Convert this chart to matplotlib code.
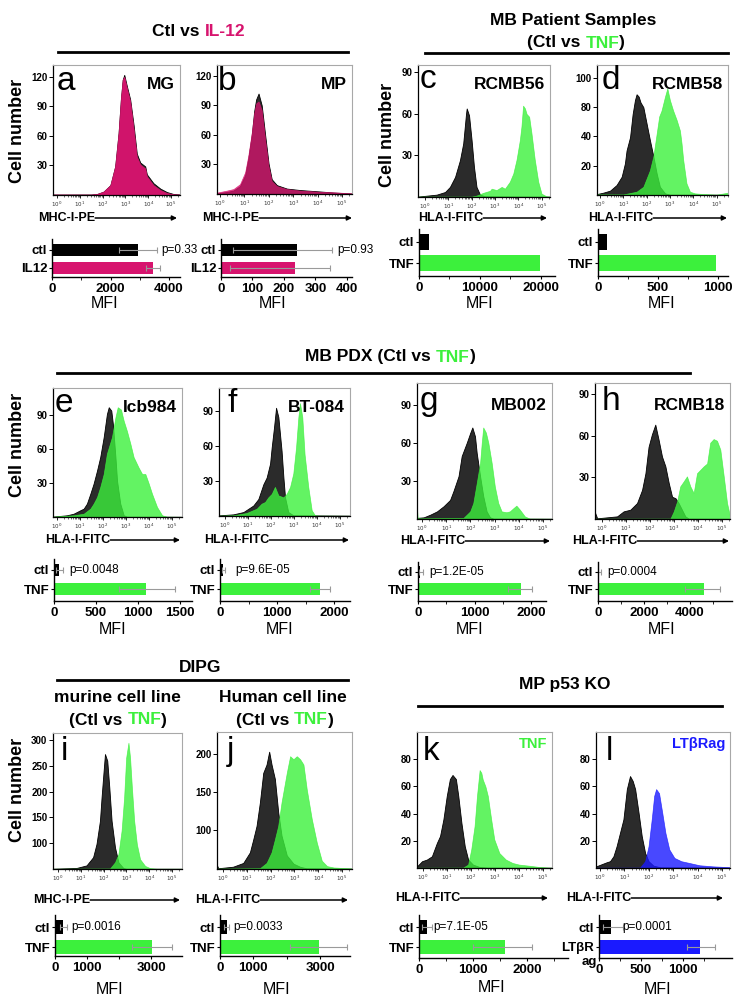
import numpy as np
import matplotlib
matplotlib.use("Agg")
import matplotlib.pyplot as plt

plt.rcParams['font.family'] = ['Liberation Sans', 'DejaVu Sans']

W, H = 745, 1000
MAG = '#d7146e'
GRN = '#3cf03c'
BLU = '#1a1aff'
DARK = '#2b2b2b'

# ---- histogram curves: (log10 intensity, cell count) ----
a_ctl = [(-0.2, 0.5), (1.5, 0.5), (1.75, 1), (2.04, 3.4), (2.34, 10), (2.55, 29), (2.70, 63), (2.80, 97),
         (2.88, 117), (2.95, 122), (3.07, 110), (3.21, 97), (3.36, 71), (3.50, 42), (3.65, 33), (3.87, 29),
         (3.94, 21), (4.23, 12), (4.53, 6.5), (4.82, 3), (5.11, 1), (5.4, 0.5)]
a_trt = [(-0.2, 0.5), (1.5, 0.5), (1.75, 1), (2.04, 3.4), (2.34, 10), (2.55, 29), (2.70, 63), (2.80, 97),
         (2.88, 117), (2.95, 120), (3.07, 108), (3.21, 95), (3.36, 67), (3.50, 39), (3.65, 31), (3.87, 27),
         (3.94, 19), (4.23, 10), (4.53, 5), (4.82, 2), (5.11, 0.7), (5.4, 0.5)]
b_ctl = [(-0.2, 0.5), (0.27, 2), (0.55, 3.5), (0.82, 8), (1.03, 19), (1.16, 36), (1.30, 60), (1.40, 84),
         (1.48, 96), (1.58, 102), (1.71, 90), (1.85, 60), (1.99, 31), (2.12, 15), (2.33, 9), (2.74, 5.5),
         (3.29, 4), (3.97, 2.8), (4.66, 1.5), (5.4, 0.5)]
b_trt = [(-0.2, 1), (-0.07, 1.7), (0.27, 3.4), (0.55, 5), (0.82, 10), (1.03, 22), (1.16, 39), (1.30, 62),
         (1.40, 82), (1.48, 92), (1.58, 94), (1.71, 85), (1.85, 55), (1.99, 28), (2.12, 13), (2.33, 8),
         (2.74, 5), (3.29, 3.4), (3.97, 2.4), (4.66, 1.7), (5.4, 0.7)]
c_ctl = [(-0.3, 0.3), (0.5, 1.7), (0.86, 3.6), (1.07, 7.3), (1.29, 14.5), (1.5, 26.6), (1.64, 38.7),
         (1.76, 60), (1.79, 64), (1.89, 59), (2.0, 41), (2.1, 22), (2.21, 7.3), (2.36, 1.7), (2.57, 0.5),
         (5.4, 0.2)]
c_trt = [(-0.3, 0.3), (2.0, 0.3), (2.21, 1), (2.5, 3), (2.79, 4.5), (2.86, 6), (3.07, 5), (3.29, 7.3),
         (3.43, 6), (3.64, 11), (3.79, 17), (3.93, 27), (4.07, 41), (4.14, 51), (4.21, 66), (4.29, 64),
         (4.36, 60), (4.47, 58), (4.57, 46), (4.71, 27), (4.86, 11), (5.0, 2.4), (5.21, 0.5), (5.4, 0.3)]
d_ctl = [(-0.2, 0.5), (0.14, 2), (0.43, 3.7), (0.71, 8.5), (0.93, 15.6), (1.07, 27), (1.14, 38),
         (1.29, 49.4), (1.4, 69), (1.5, 81), (1.57, 86), (1.66, 84), (1.74, 79), (1.86, 75), (2.0, 61),
         (2.14, 47), (2.29, 33), (2.43, 18.5), (2.57, 7), (2.79, 1.4), (3.0, 0.3), (5.5, 0.2)]
d_trt = [(-0.2, 0.5), (1.0, 0.5), (1.57, 2.8), (1.86, 7), (2.14, 21), (2.29, 33), (2.43, 52), (2.54, 67),
         (2.64, 72), (2.79, 84), (2.89, 91), (3.0, 81), (3.14, 72), (3.29, 64), (3.43, 55), (3.5, 44),
         (3.57, 30), (3.71, 10), (3.86, 2.8), (4.07, 1.4), (4.43, 0.8), (5.0, 0.3), (5.5, 2)]
e_ctl = [(-0.2, 0.3), (0.43, 1.5), (0.72, 2.9), (1.01, 5.9), (1.16, 7.4), (1.30, 11.8), (1.45, 20.6),
         (1.59, 29.4), (1.74, 41), (1.88, 53), (2.03, 70.6), (2.17, 91), (2.25, 97), (2.36, 94),
         (2.43, 82), (2.54, 53), (2.61, 32), (2.75, 11.8), (2.90, 1.5), (3.04, 0.3), (5.4, 0.2)]
e_trt = [(-0.2, 0.3), (0.72, 1.5), (1.16, 2.9), (1.45, 7.4), (1.59, 11.8), (1.74, 17.6), (1.88, 26.5),
         (2.03, 38), (2.17, 56), (2.39, 70.6), (2.54, 88), (2.64, 97), (2.78, 95), (2.90, 85), (3.04, 76),
         (3.19, 64.7), (3.33, 53), (3.54, 44), (3.70, 38), (3.84, 38), (3.99, 29.4), (4.13, 20.6),
         (4.35, 8.8), (4.57, 1.5), (4.78, 0.3), (5.4, 0.2)]
f_ctl = [(-0.3, 0.5), (0.36, 1.4), (0.80, 3.4), (1.23, 9), (1.45, 14.6), (1.67, 27.4), (1.81, 33),
         (1.96, 45), (2.03, 59), (2.13, 76), (2.22, 93), (2.32, 85), (2.46, 56), (2.54, 33), (2.61, 16),
         (2.75, 3.4), (2.97, 0.6), (5.4, 0.3)]
f_trt = [(-0.3, 0.3), (0.36, 0.6), (0.94, 2.6), (1.38, 6.3), (1.59, 10.6), (1.74, 12), (1.88, 16),
         (2.03, 19), (2.17, 25), (2.32, 17.7), (2.54, 16), (2.68, 19), (2.83, 25), (2.97, 36.6),
         (3.09, 59), (3.19, 85), (3.26, 97), (3.36, 85), (3.46, 53), (3.62, 25), (3.77, 4.9), (3.91, 0.6),
         (4.13, 0.3), (5.4, 0.2)]
g_ctl = [(-0.25, 0.8), (0.07, 1.3), (0.34, 3.4), (0.62, 6), (0.89, 10), (1.16, 15), (1.30, 22),
         (1.51, 33.7), (1.64, 49.5), (1.85, 60), (1.99, 67.6), (2.08, 72), (2.19, 65), (2.26, 52),
         (2.40, 33.7), (2.53, 18), (2.67, 6), (2.81, 1.3), (2.95, 0.3), (5.4, 0.2)]
g_trt = [(-0.25, 20), (-0.18, 0.5), (1.71, 0.8), (1.99, 6), (2.12, 12.6), (2.26, 28), (2.40, 44),
         (2.47, 60), (2.53, 72), (2.64, 68), (2.74, 60), (2.88, 44), (3.01, 25.5), (3.15, 12.6),
         (3.29, 6), (3.49, 5.3), (3.63, 6), (3.77, 8.4), (3.90, 10.5), (4.04, 7.4), (4.25, 2), (4.45, 0.3),
         (5.4, 0.2)]
h_ctl = [(-0.3, 5), (-0.2, 0.5), (0.63, 1.9), (0.90, 5.5), (1.18, 6.7), (1.46, 11.5), (1.67, 21),
         (1.81, 33), (1.94, 52), (2.08, 61), (2.22, 68), (2.36, 57), (2.50, 45), (2.64, 38), (2.78, 26),
         (2.92, 16), (3.06, 15), (3.19, 11.5), (3.33, 6.7), (3.47, 1.9), (3.61, 0.3), (5.4, 0.2)]
h_trt = [(-0.3, 0.2), (2.85, 0.3), (2.99, 5.5), (3.13, 12.7), (3.26, 23.5), (3.40, 27), (3.54, 30.7),
         (3.68, 23.5), (3.82, 18.7), (3.96, 33), (4.10, 35.5), (4.24, 38), (4.38, 40), (4.51, 55),
         (4.65, 57.6), (4.79, 56.4), (4.93, 50), (5.07, 31), (5.21, 11.5), (5.35, 0.7), (5.4, 0.3)]
i_ctl = [(-0.25, 49.5), (0.81, 51), (1.25, 56), (1.54, 72), (1.69, 98), (1.84, 143), (1.91, 188),
         (1.99, 234), (2.06, 273), (2.16, 260), (2.25, 208), (2.35, 143), (2.50, 91), (2.65, 62),
         (2.87, 50.6), (3.0, 49.5), (5.5, 49.5)]
i_trt = [(-0.25, 49.5), (2.28, 50), (2.50, 62), (2.65, 78), (2.79, 124), (2.90, 188), (2.99, 266),
         (3.09, 295), (3.16, 266), (3.24, 208), (3.34, 143), (3.46, 97), (3.60, 68), (3.82, 55),
         (4.04, 50.6), (4.34, 49.5), (5.5, 49.5)]
j_ctl = [(-0.28, 55), (-0.2, 49), (0.42, 51), (0.85, 56), (1.13, 70), (1.27, 87), (1.41, 105),
         (1.55, 136), (1.69, 175), (1.83, 186), (1.94, 203), (2.04, 186), (2.18, 167), (2.32, 123),
         (2.46, 92), (2.68, 66), (2.96, 55), (3.24, 50.9), (3.5, 49), (5.5, 48.5)]
j_trt = [(-0.28, 48.5), (1.55, 49), (1.83, 56), (2.04, 70), (2.18, 87), (2.32, 105), (2.46, 136),
         (2.68, 175), (2.82, 197), (2.96, 193), (3.1, 197), (3.24, 193), (3.38, 186), (3.52, 153),
         (3.73, 114), (3.94, 83), (4.15, 59), (4.37, 51.8), (4.65, 50), (5.5, 48.5)]
k_ctl = [(-0.25, 1.2), (-0.04, 5), (0.16, 6.2), (0.37, 8.6), (0.58, 18.5), (0.71, 23.5), (0.85, 35.8),
         (0.99, 53), (1.12, 65.4), (1.23, 68.4), (1.37, 65.4), (1.47, 53), (1.60, 33.3), (1.74, 16),
         (1.88, 6.2), (2.08, 2.5), (2.36, 0.7), (2.7, 0.3), (5.4, 0.2)]
k_trt = [(-0.25, 0.2), (1.67, 0.3), (1.88, 2.5), (2.01, 13.6), (2.15, 30.9), (2.25, 53), (2.36, 72),
         (2.43, 70), (2.49, 65), (2.60, 60), (2.70, 53), (2.84, 35.8), (2.97, 21), (3.18, 11), (3.45, 6.2),
         (3.73, 3.7), (4.0, 2.5), (4.41, 1.7), (4.82, 0.8), (5.23, 0.3), (5.4, 0.2)]
l_ctl = [(-0.16, 1.2), (0.27, 4.2), (0.41, 5), (0.55, 8.6), (0.68, 16), (0.82, 25.9), (0.96, 35.8),
         (1.10, 58), (1.23, 67.6), (1.34, 64), (1.44, 58), (1.58, 40.7), (1.71, 23.5), (1.85, 11),
         (1.99, 5), (2.19, 1.7), (2.47, 0.5), (5.4, 0.2)]
l_trt = [(-0.16, 0.2), (1.64, 0.3), (1.85, 5), (1.99, 16), (2.12, 35.8), (2.22, 53), (2.30, 58),
         (2.42, 55), (2.55, 40.7), (2.68, 25.9), (2.84, 13.6), (3.05, 7.4), (3.33, 5), (3.66, 3.7),
         (4.08, 2), (4.63, 1.2), (5.18, 0.7), (5.4, 0.5)]

panels = ['a', 'b', 'c', 'd', 'e', 'f', 'g', 'h', 'i', 'j', 'k', 'l']
sample_names = ['MG', 'MP', 'RCMB56', 'RCMB58', 'Icb984', 'BT-084', 'MB002', 'RCMB18', '', '', 'TNF', 'LTβRag']
x_labels = ['MHC-I-PE', 'MHC-I-PE', 'HLA-I-FITC', 'HLA-I-FITC', 'HLA-I-FITC', 'HLA-I-FITC',
            'HLA-I-FITC', 'HLA-I-FITC', 'MHC-I-PE', 'HLA-I-FITC', 'HLA-I-FITC', 'HLA-I-FITC']
y_ticks = [[30, 60, 90, 120], [30, 60, 90, 120], [30, 60, 90], [25, 50, 75, 100], [30, 60, 90],
           [30, 60, 90], [30, 60, 90], [30, 60, 90], [100, 150, 200, 250, 300], [100, 150, 200],
           [20, 40, 60, 80], [20, 40, 60, 80]]
y_tick_labels = [None, None, None, ['20', '40', '80', '100'], None, None, None, None, None, None, None, None]
y_tops = [132, 131, 95.4, 111, 114, 110, 107, 98, 314, 229, 100, 100]
y_bottoms = [0, 0, 0, 0, 0, 0, 0, 0, 49, 48, 0, 0]

# ---- MFI bar charts ----
trt_names = ['IL12', 'IL12', 'TNF', 'TNF', 'TNF', 'TNF', 'TNF', 'TNF', 'TNF', 'TNF', 'TNF', 'LTβR']
ctl_mfi = [2950, 240, 1640, 75, 60, 60, 40, 60, 250, 200, 150, 140]
trt_mfi = [3450, 235, 19900, 985, 1100, 1760, 1830, 4600, 3030, 2980, 1600, 1200]
ctl_lo = [2300, 39, None, None, 20, 30, 10, 20, 150, 120, 60, 50]
ctl_hi = [3600, 351, None, None, 110, 90, 80, 110, 370, 280, 250, 280]
trt_lo = [3200, 29, None, None, 770, 1580, 1600, 3800, 2400, 2100, 1000, 1050]
trt_hi = [3700, 346, None, None, 1440, 1930, 2010, 5300, 3650, 3800, 2100, 1380]
p_values = ['p=0.33', 'p=0.93', '', '', 'p=0.0048', 'p=9.6E-05', 'p=1.2E-05', 'p=0.0004',
            'p=0.0016', 'p=0.0033', 'p=7.1E-05', 'p=0.0001']
mfi_ticks = [[0, 2000, 4000], [0, 100, 200, 300, 400], [0, 10000, 20000], [0, 500, 1000],
             [0, 500, 1000, 1500], [0, 1000, 2000], [0, 1000, 2000], [0, 2000, 4000],
             [0, 1000, 2000, 3000], [0, 1000, 2000, 3000], [0, 1000, 2000], [0, 500, 1000]]
mfi_tick_labels = [None, None, None, None, None, None, None, None,
                   ['0', '1000', '', '3000'], ['0', '1000', '', '3000'], None, None]
mfi_minor = [[1000, 3000], [], [5000, 15000], [250, 750], [], [500, 1500], [500, 1500],
             [1000, 3000, 5000], [], [], [500, 1500, 2500], [250, 750, 1250]]
mfi_max = [4376, 416, 22300, 1083, 1643, 2280, 2265, 5826, 3970, 3900, 2760, 1583]

trt_colors = [MAG, MAG] + [GRN] * 9 + [BLU]
trt_alpha = [0.97, 0.78] + [0.8] * 10

# ---- layout in figure pixels ----
hist_box = [(53, 65, 180, 195), (217, 65, 352, 194), (418, 65, 550, 197), (597, 65, 728, 195),
            (53, 388, 182, 517), (219, 388, 350, 516), (417, 383, 552, 519), (595, 383, 730, 519),
            (53, 733, 182, 869), (217, 732, 352, 869), (417, 732, 552, 868), (596, 732, 730, 868)]
hist_x0 = [(57, 22.8), (220, 24.4), (425, 23.3), (600, 23.3), (57, 23), (225, 23), (422, 24.2),
           (602, 24), (58, 22.8), (223, 23.8), (423, 24), (600, 24.4)]
letter_pos = [(57, 90), (218, 90), (420, 88), (602, 89), (55, 412), (228, 412), (420, 410), (602, 410),
              (61, 760), (227, 760), (423, 760), (606, 760)]
name_y = [89, 89, 89, 89, 412, 412, 410, 410, 0, 0, 748, 748]
xlab_pos = [(38, 218, 177), (202, 218, 352), (418, 218, 547), (588, 218, 727),
            (45, 540, 180), (204, 540, 349), (400, 541, 550), (572, 541, 729),
            (33, 900, 180), (195, 900, 348), (395, 898, 548), (566, 898, 723)]
bar_box = [(52, 180, 277, 250, 268), (221, 352, 277, 250, 268), (419, 555, 276, 242, 263),
           (598, 728, 276, 242, 263), (54, 192, 601, 570, 589), (220, 350, 601, 570, 589),
           (418, 546, 601, 572, 589), (598, 732, 601, 572, 589), (55, 182, 956, 927, 947),
           (220, 350, 956, 927, 947), (419, 568, 958, 927, 947), (599, 732, 958, 927, 947)]
p_x = [161, 337, 0, 0, 69, 235, 429, 607, 71, 233, 433, 622]
mfi_pos = [(105, 304), (273, 304), (480, 304), (662, 304), (113, 629), (280, 629), (470, 629),
           (662, 629), (110, 989), (277, 989), (492, 988), (658, 990)]


fig = plt.figure(figsize=(W / 100, H / 100), dpi=100)
ov = fig.add_axes([0, 0, 1, 1])
ov.set_xlim(0, W)
ov.set_ylim(H, 0)
ov.axis('off')
ov.set_zorder(10)


def add_ax(l, t, r, b):
    return fig.add_axes([l / W, 1 - b / H, (r - l) / W, (b - t) / H])


def chain(x, y, parts, size=12.5):
    t = ov.text(x, y, parts[0][0], color=parts[0][1], fontsize=size, fontweight='bold',
                ha='left', va='center')
    for s, c in parts[1:]:
        t = ov.annotate(s, xy=(1, 0), xycoords=t, color=c, fontsize=size, fontweight='bold',
                        ha='left', va='bottom')


curves = [(a_ctl, a_trt), (b_ctl, b_trt), (c_ctl, c_trt), (d_ctl, d_trt), (e_ctl, e_trt), (f_ctl, f_trt),
          (g_ctl, g_trt), (h_ctl, h_trt), (i_ctl, i_trt), (j_ctl, j_trt), (k_ctl, k_trt), (l_ctl, l_trt)]

minor_pos = [np.log10(k * 10.0 ** d) for d in range(0, 6) for k in range(2, 10)]

for n, p in enumerate(panels):
    l, t, r, b = hist_box[n]
    x0, dec = hist_x0[n]
    ax = add_ax(l, t, r, b)
    ax.set_xlim((l - x0) / dec, (r - x0) / dec)
    ax.set_ylim(y_bottoms[n], y_tops[n])
    ctl, trt = curves[n]
    cx, cy = zip(*ctl)
    tx, ty = zip(*trt)
    ax.fill_between(cx, y_bottoms[n], cy, facecolor=DARK, edgecolor='black', lw=0.6)
    ax.fill_between(tx, y_bottoms[n], ty, facecolor=trt_colors[n], alpha=trt_alpha[n],
                    edgecolor=trt_colors[n], lw=0.5)
    ax.set_xticks(range(6))
    ax.set_xticklabels([r'$10^{%d}$' % k for k in range(6)], fontsize=4, color='#333333')
    ax.set_xticks([m for m in minor_pos if m < ax.get_xlim()[1]], minor=True)
    ax.set_yticks(y_ticks[n])
    if y_tick_labels[n]:
        ax.set_yticklabels(y_tick_labels[n])
    ax.tick_params(axis='y', labelsize=7, length=3, width=0.7, pad=1)
    ax.tick_params(axis='x', which='major', length=2.5, width=0.6, pad=1)
    ax.tick_params(axis='x', which='minor', length=1.3, width=0.4)
    for lab in ax.get_yticklabels():
        lab.set_fontweight('bold')
    for s in ['top', 'right']:
        ax.spines[s].set_color('#a8a8a8')
        ax.spines[s].set_linewidth(0.8)
    ax.spines['left'].set_linewidth(0.9)
    ax.spines['bottom'].set_linewidth(0.9)

    # panel letter and sample name
    ov.text(letter_pos[n][0], letter_pos[n][1], p, fontsize=24, ha='left', va='baseline')
    if sample_names[n]:
        col = 'black'
        size = 12.5
        if p == 'k':
            col, size = GRN, 10.5
        if p == 'l':
            col, size = BLU, 10.5
        ov.text(r - 5, name_y[n], sample_names[n], fontsize=size, fontweight='bold', color=col,
                ha='right', va='baseline')

    # x label with arrow
    xs, ys, xe = xlab_pos[n]
    tl = ov.text(xs, ys, x_labels[n], fontsize=9, fontweight='bold', ha='left', va='center')
    ov.annotate('', xy=(xe, ys), xytext=(1.0, 0.5), textcoords=tl,
                arrowprops=dict(arrowstyle='-|>', color='black', lw=1.1, mutation_scale=7,
                                shrinkA=0, shrinkB=0))

    # MFI bar chart
    bl, br, axis_y, cc, tc = bar_box[n]
    unit = tc - cc
    bx = add_ax(bl, cc - 0.6 * unit, br, axis_y)
    bx.patch.set_alpha(0)
    bx.set_ylim(-(axis_y - tc) / unit, 1.6)
    bx.set_xlim(0, mfi_max[n])
    hgt = 0.75 if p in ('c', 'd') else 0.68
    bx.barh([1, 0], [ctl_mfi[n], trt_mfi[n]], height=hgt, color=['black', trt_colors[n]])
    if ctl_lo[n] is not None:
        for yy, m, lo, hi in [(1, ctl_mfi[n], ctl_lo[n], ctl_hi[n]), (0, trt_mfi[n], trt_lo[n], trt_hi[n])]:
            bx.errorbar(m, yy, xerr=[[m - lo], [hi - m]], fmt='none', ecolor='#9a9a9a',
                        elinewidth=0.8, capsize=2, capthick=0.8)
    bx.set_yticks([1, 0])
    bx.set_yticklabels(['ctl', trt_names[n]], fontsize=9.5, fontweight='bold')
    bx.set_xticks(mfi_ticks[n])
    if mfi_tick_labels[n]:
        bx.set_xticklabels(mfi_tick_labels[n])
    bx.set_xticks(mfi_minor[n], minor=True)
    bx.tick_params(axis='x', which='major', labelsize=9.5, length=2.5, width=0.8, pad=1.5)
    bx.tick_params(axis='x', which='minor', length=2, width=0.6)
    bx.tick_params(axis='y', length=2.5, width=0.8, pad=1)
    for lab in bx.get_xticklabels():
        lab.set_fontweight('bold')
    bx.spines['top'].set_visible(False)
    bx.spines['right'].set_visible(False)
    bx.spines['left'].set_linewidth(1)
    bx.spines['bottom'].set_linewidth(1)
    if p_values[n]:
        ov.text(p_x[n], cc, p_values[n], fontsize=8.5, ha='left', va='center')
    ov.text(mfi_pos[n][0], mfi_pos[n][1], 'MFI', fontsize=11.5, ha='center', va='center')

ov.text(597, 962, 'ag', fontsize=9.5, fontweight='bold', ha='right', va='center')

# y axis titles
for x, y in [(18, 131), (387, 135), (18, 445), (18, 790)]:
    ov.text(x, y, 'Cell number', rotation=90, fontsize=13, fontweight='bold', ha='center', va='center')

# group headers
chain(152, 32, [('Ctl vs ', 'black'), ('IL-12', MAG)])
ov.plot([58, 348], [52, 52], color='black', lw=2)
ov.text(573, 21, 'MB Patient Samples', fontsize=12.5, fontweight='bold', ha='center', va='center')
chain(527, 43, [('(Ctl vs ', 'black'), ('TNF', GRN), (')', 'black')])
ov.plot([425, 728], [53, 53], color='black', lw=2)
chain(305, 357, [('MB PDX (Ctl vs ', 'black'), ('TNF', GRN), (')', 'black')])
ov.plot([57, 690], [373, 373], color='black', lw=2)
ov.text(200, 668, 'DIPG', fontsize=12.5, fontweight='bold', ha='center', va='center')
ov.plot([57, 348], [680, 680], color='black', lw=2)
ov.text(117, 698, 'murine cell line', fontsize=12.5, fontweight='bold', ha='center', va='center')
chain(69, 720, [('(Ctl vs ', 'black'), ('TNF', GRN), (')', 'black')])
ov.text(283, 698, 'Human cell line', fontsize=12.5, fontweight='bold', ha='center', va='center')
chain(236, 720, [('(Ctl vs ', 'black'), ('TNF', GRN), (')', 'black')])
ov.text(565, 685, 'MP p53 KO', fontsize=12.5, fontweight='bold', ha='center', va='center')
ov.plot([418, 722], [706, 706], color='black', lw=2)

fig.savefig('out.png', dpi=100)
